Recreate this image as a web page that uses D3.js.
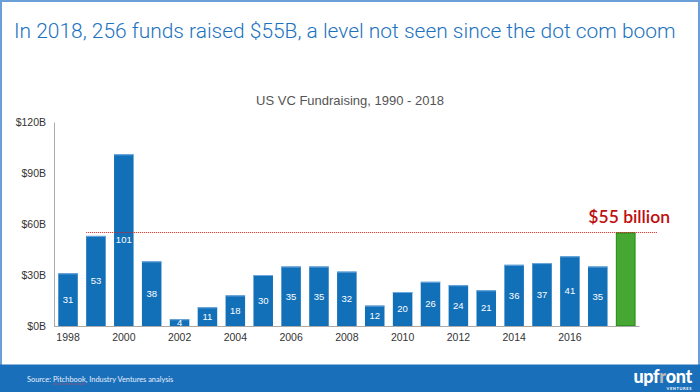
<!DOCTYPE html>
<html>
<head>
<meta charset="utf-8">
<script src="https://cdn.jsdelivr.net/npm/d3@7"></script>
<style>
  body { margin: 0; background: #fff; }
  svg { display: block; }
</style>
</head>
<body>
<div id="chart"></div>
<script>
var years = [1998, 1999, 2000, 2001, 2002, 2003, 2004, 2005, 2006, 2007, 2008,
             2009, 2010, 2011, 2012, 2013, 2014, 2015, 2016, 2017, 2018];
var raised = [31, 53, 101, 38, 4, 11, 18, 30, 35, 35, 32,
              12, 20, 26, 24, 21, 36, 37, 41, 35, 55];
var tickYears = [1998, 2000, 2002, 2004, 2006, 2008, 2010, 2012, 2014, 2016];
var yTicks = [0, 30, 60, 90, 120];
var highlight = 55;

var width = 700,
    height = 392;

var svg = d3.select("#chart")
    .append("svg")
    .attr("width", width)
    .attr("height", height);

// frame
svg.append("rect")
    .attr("x", 1).attr("y", 1)
    .attr("width", width - 2).attr("height", height - 2)
    .attr("fill", "#fff")
    .attr("stroke", "#6a9fd8")
    .attr("stroke-width", 2);

// headline
var title = svg.append("text")
    .attr("x", 14)
    .attr("y", 38)
    .attr("fill", "#1b72c0")
    .style("font-family", "Roboto, sans-serif")
    .style("font-weight", 300)
    .style("font-size", "22px")
    .text("In 2018, 256 funds raised $55B, a level not seen since the dot com boom");
// fit headline to the slide width
var tw = title.node().getComputedTextLength();
title.style("font-size", (22 * 662 / tw) + "px");

svg.append("text")
    .attr("x", 350)
    .attr("y", 105)
    .attr("text-anchor", "middle")
    .attr("fill", "#555")
    .style("font-family", "'Liberation Sans', Arial, sans-serif")
    .style("font-size", "13px")
    .text("US VC Fundraising, 1990 - 2018");

var x = d3.scaleBand()
    .domain(years)
    .range([54.1, 639.6])
    .paddingInner(0.3)
    .paddingOuter(0.15);

var y = d3.scaleLinear()
    .domain([0, 120])
    .range([326, 122]);

// y axis
var yAxis = svg.append("g")
    .attr("transform", "translate(54,0)")
    .call(d3.axisLeft(y).tickValues(yTicks).tickSize(0).tickPadding(8)
        .tickFormat(function (d) { return "$" + d + "B"; }));
yAxis.select(".domain").attr("stroke", "#aaa");
yAxis.selectAll("text")
    .attr("fill", "#333")
    .style("font-family", "'Liberation Sans', Arial, sans-serif")
    .style("font-size", "10.5px");

// bars
var data = years.map(function (yr, i) { return { year: yr, value: raised[i] }; });

svg.selectAll(".bar")
    .data(data)
    .enter().append("rect")
    .attr("class", "bar")
    .attr("x", function (d) { return x(d.year); })
    .attr("y", function (d) { return y(d.value); })
    .attr("width", x.bandwidth())
    .attr("height", function (d) { return y(0) - y(d.value); })
    .attr("fill", function (d) { return d.year === 2018 ? "#46a832" : "#1270b9"; });

// light top edge on the blue bars
svg.selectAll(".cap")
    .data(data)
    .enter().append("rect")
    .attr("x", function (d) { return x(d.year); })
    .attr("y", function (d) { return y(d.value); })
    .attr("width", x.bandwidth())
    .attr("height", 1)
    .attr("fill", function (d) { return d.year === 2018 ? "#3a9a2a" : "#6fa8dc"; });

// green bar outline
var last = data[data.length - 1];
svg.append("rect")
    .attr("x", x(last.year) + 0.5)
    .attr("y", y(last.value) + 0.5)
    .attr("width", x.bandwidth() - 1)
    .attr("height", y(0) - y(last.value) - 1)
    .attr("fill", "none")
    .attr("stroke", "#2f8f22")
    .attr("stroke-width", 1);

// value labels (not on 2018)
svg.selectAll(".val")
    .data(data.slice(0, -1))
    .enter().append("text")
    .attr("x", function (d) { return x(d.year) + x.bandwidth() / 2; })
    .attr("y", function (d) { return (y(d.value) + y(0)) / 2; })
    .attr("dy", "0.35em")
    .attr("text-anchor", "middle")
    .attr("fill", "#fff")
    .style("font-family", "'Liberation Sans', Arial, sans-serif")
    .style("font-size", "9.5px")
    .text(function (d) { return d.value; });

// baseline + year ticks
var xAxis = svg.append("g")
    .attr("transform", "translate(0,326)")
    .call(d3.axisBottom(x).tickValues(tickYears).tickSize(0).tickPadding(8));
xAxis.select(".domain").attr("stroke", "#aaa").attr("d", "M54,0.5H639.6");
xAxis.selectAll("text")
    .attr("fill", "#333")
    .style("font-family", "'Liberation Sans', Arial, sans-serif")
    .style("font-size", "10.5px");

// $55B reference line
svg.append("line")
    .attr("x1", x(1999))
    .attr("x2", 657)
    .attr("y1", y(highlight))
    .attr("y2", y(highlight))
    .attr("stroke", "#d62020")
    .attr("stroke-width", 1)
    .attr("stroke-dasharray", "1,1");

svg.append("text")
    .attr("x", 670)
    .attr("y", 223)
    .attr("text-anchor", "end")
    .attr("fill", "#c00d0d")
    .style("font-family", "Lato, sans-serif")
    .style("font-weight", 600)
    .style("font-size", "17.5px")
    .text("$" + highlight + " billion");

// footer
svg.append("rect")
    .attr("x", 0).attr("y", 364.5)
    .attr("width", width).attr("height", height - 364.5)
    .attr("fill", "#1a6fba");

var src = svg.append("text")
    .attr("x", 27)
    .attr("y", 382)
    .attr("fill", "#e8f0fa")
    .style("font-family", "Lato, sans-serif")
    .style("font-size", "7.4px");
src.append("tspan").text("Source: ");
src.append("tspan").text("Pitchbook");
src.append("tspan").text(", Industry Ventures analysis");

// spell-check squiggle under "Pitchbook"
var pb = src.selectAll("tspan").nodes()[1];
var pbStart = pb.getStartPositionOfChar(0).x,
    pbEnd = pb.getEndPositionOfChar(pb.getNumberOfChars() - 1).x;
svg.append("line")
    .attr("x1", pbStart).attr("x2", pbEnd)
    .attr("y1", 384).attr("y2", 384)
    .attr("stroke", "#d04a5a")
    .attr("stroke-width", 0.8)
    .attr("stroke-dasharray", "1.2,0.6");

var logo = svg.append("text")
    .attr("x", 692)
    .attr("y", 383)
    .attr("text-anchor", "end")
    .attr("fill", "#fff")
    .style("font-family", "Lato, sans-serif")
    .style("font-weight", 900)
    .style("font-size", "18px")
    .style("letter-spacing", "-0.3px");
logo.append("tspan").text("upf");
logo.append("tspan").attr("fill", "#b8b8b8").text("r");
logo.append("tspan").text("ont");

svg.append("text")
    .attr("x", 692)
    .attr("y", 389.5)
    .attr("text-anchor", "end")
    .attr("fill", "#fff")
    .style("font-family", "Lato, sans-serif")
    .style("font-weight", 700)
    .style("font-size", "4px")
    .style("letter-spacing", "0.6px")
    .text("VENTURES");
</script>
</body>
</html>
